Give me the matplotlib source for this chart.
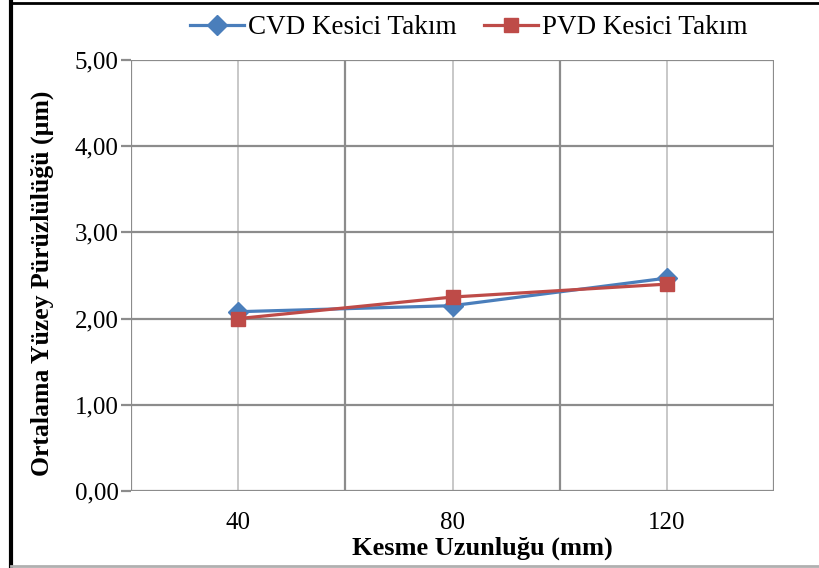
import matplotlib.pyplot as plt
from matplotlib.lines import Line2D

plt.rcParams['font.family'] = ['Liberation Serif', 'DejaVu Serif']

# kesme uzunluklari ve ortalama Ra degerleri
uzunluk = ["40", "80", "120"]
cvd = [2.08, 2.15, 2.47]
pvd = [2.00, 2.25, 2.40]
y_ticks = [0, 1, 2, 3, 4, 5]

W, H = 819, 568
fig = plt.figure(figsize=(W / 100, H / 100), dpi=100)
ax = fig.add_axes([131 / W, 1 - 491 / H, (774 - 131) / W, (491 - 60) / H])

x = [i + 0.5 for i in range(len(uzunluk))]
ax.set_xlim(0, len(uzunluk))
ax.set_ylim(0, 5)

# izgara: kategori sinirlari koyu, kategori ortalari acik
for i in range(len(uzunluk) + 1):
    ax.axvline(i, color="#8c8c8c", lw=1.6, zorder=1)
for xi in x:
    ax.axvline(xi, color="#c8c8c8", lw=1.4, zorder=1)
for yv in y_ticks:
    ax.axhline(yv, color="#8c8c8c", lw=1.6, zorder=1)

ax.plot(x, cvd, color="#4a7ebb", lw=2.3, marker="D", ms=10.5,
        label="CVD Kesici Takım", zorder=3)
ax.plot(x, pvd, color="#be4b48", lw=2.3, marker="s", ms=10,
        label="PVD Kesici Takım", zorder=3)

for s in ax.spines.values():
    s.set_visible(False)

ax.set_xticks(x)
ax.set_xticklabels(uzunluk)
ax.set_yticks(y_ticks)
ax.set_yticklabels([f"{v:.2f}".replace(".", ",") for v in y_ticks])
ax.tick_params(axis="x", length=0, pad=15, labelsize=18)
ax.tick_params(axis="y", length=7, width=1.6, color="#8c8c8c", pad=2, labelsize=18)

ax.set_xlabel("Kesme Uzunluğu (mm)", fontsize=19, fontweight="bold")
ax.set_ylabel("Ortalama Yüzey Pürüzlülüğü (µm)", fontsize=18.5, fontweight="bold")
ax.xaxis.set_label_coords(0.546, -0.105)
ax.yaxis.set_label_coords(-0.119, 0.483)

fig.legend(loc="center", bbox_to_anchor=(469 / W, 1 - 28 / H), ncol=2,
           frameon=False, fontsize=19.5, handlelength=2.0, handletextpad=0.15,
           columnspacing=1.0)

# cerceve cizgileri
fig.add_artist(Line2D([11 / W, 11 / W], [0, 1], color="black", lw=3,
                      transform=fig.transFigure))
fig.add_artist(Line2D([11 / W, 1], [1 - 3 / H, 1 - 3 / H], color="black", lw=2,
                      transform=fig.transFigure))
fig.add_artist(Line2D([11 / W, 1], [1 - 566 / H, 1 - 566 / H], color="#b0b0b0",
                      lw=2, transform=fig.transFigure))

fig.savefig("out.png", dpi=100)
